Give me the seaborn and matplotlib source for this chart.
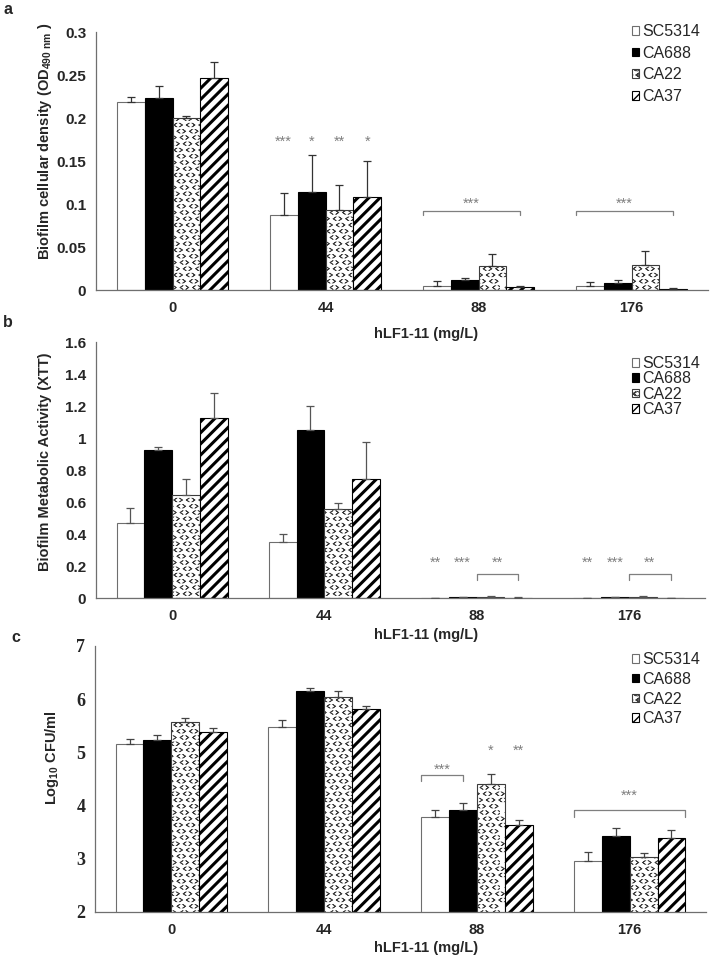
import numpy as np
import pandas as pd
import matplotlib
matplotlib.use("Agg")
import matplotlib.pyplot as plt
import matplotlib.hatch as mhatch
from matplotlib.path import Path
from matplotlib.ticker import FuncFormatter, FixedLocator
import seaborn as sns

# ---------------- data ----------------
concentrations = ["0", "44", "88", "176"]
strains = ["SC5314", "CA688", "CA22", "CA37"]

# panel a: biofilm cellular density (OD490)
a_SC5314 = [0.219, 0.087, 0.005, 0.005]
a_CA688 = [0.223, 0.114, 0.0116, 0.0085]
a_CA22 = [0.1996, 0.093, 0.0274, 0.0295]
a_CA37 = [0.246, 0.1085, 0.003, 0.0015]
a_err_SC5314 = [0.006, 0.026, 0.005, 0.004]
a_err_CA688 = [0.014, 0.043, 0.0024, 0.0035]
a_err_CA22 = [0.0024, 0.029, 0.0146, 0.0162]
a_err_CA37 = [0.019, 0.0415, 0.002, 0.0005]

# panel b: metabolic activity (XTT)
b_SC5314 = [0.471, 0.352, 0.002, 0.002]
b_CA688 = [0.923, 1.05, 0.005, 0.004]
b_CA22 = [0.646, 0.556, 0.008, 0.008]
b_CA37 = [1.123, 0.746, 0.003, 0.002]
b_err_SC5314 = [0.0915, 0.05, 0.001, 0.001]
b_err_CA688 = [0.023, 0.152, 0.002, 0.002]
b_err_CA22 = [0.098, 0.04, 0.004, 0.004]
b_err_CA37 = [0.16, 0.231, 0.001, 0.001]

# panel c: log10 CFU/ml
c_SC5314 = [5.158, 5.484, 3.786, 2.965]
c_CA688 = [5.233, 6.16, 3.917, 3.42]
c_CA22 = [5.578, 6.04, 4.40, 3.04]
c_CA37 = [5.383, 5.81, 3.635, 3.385]
c_err_SC5314 = [0.087, 0.119, 0.131, 0.169]
c_err_CA688 = [0.087, 0.05, 0.132, 0.165]
c_err_CA22 = [0.075, 0.12, 0.20, 0.06]
c_err_CA37 = [0.076, 0.068, 0.101, 0.156]

# significance marks: (category, bar, text)
a_stars = [(1, 0, "***"), (1, 1, "*"), (1, 2, "**"), (1, 3, "*")]
a_star_y = 0.1725
# brackets: (category, (edge, bar), (edge, bar), line y, tick bottom y, text, text y)
a_brackets = [(2, ("left", 0), ("center", 3), 0.092, 0.087, "***", 0.100),
              (3, ("left", 0), ("center", 3), 0.092, 0.087, "***", 0.100)]

b_stars = [(2, 0, "**"), (2, 1, "***"), (3, 0, "**"), (3, 1, "***")]
b_star_y = 0.221
b_brackets = [(2, ("left", 2), ("center", 3), 0.148, 0.111, "**", 0.221),
              (3, ("left", 2), ("center", 3), 0.148, 0.111, "**", 0.221)]

c_stars = [(2, 2, "*"), (2, 3, "**")]
c_star_y = 5.03
c_brackets = [(2, ("left", 0), ("center", 1), 4.57, 4.46, "***", 4.68),
              (3, ("left", 0), ("right", 3), 3.91, 3.79, "***", 4.18)]


# ---------------- custom chevron hatch (replaces 'O') ----------------
def _chev(cx, cy, right):
    """Thin closed V-shaped polygon: '<' or '>' centred on (cx, cy)."""
    hw, hh, t = 0.10, 0.14, 0.03
    s = -1.0 if right else 1.0
    return [(cx + s * hw, cy + hh), (cx - s * hw, cy), (cx + s * hw, cy - hh),
            (cx + s * (hw + t), cy - hh), (cx - s * (hw - t), cy),
            (cx + s * (hw + t), cy + hh), (cx + s * hw, cy + hh)]


class ChevronHatch(mhatch.Shapes):
    filled = True
    size = 1.0

    def __init__(self, hatch, density):
        n = hatch.count("O")
        self.num_rows = (n * density * 2) // 3 if n else 0
        if self.num_rows % 2:
            self.num_rows += 1
        verts = (_chev(0.0, 0.0, False) + _chev(0.5, 0.0, True) +
                 _chev(0.25, 0.5, True) + _chev(0.75, 0.5, False))
        self.shape_vertices = np.array(verts, dtype=float)
        one = [Path.MOVETO] + [Path.LINETO] * 5 + [Path.CLOSEPOLY]
        self.shape_codes = np.array(one * 4, dtype=Path.code_type)
        super().__init__(hatch, density)


_idx = mhatch._hatch_types.index(mhatch.LargeCircles)
mhatch._hatch_types[_idx] = ChevronHatch

# ---------------- style ----------------
sns.set_style("white")
plt.rcParams["font.family"] = ["Liberation Sans", "DejaVu Sans"]
plt.rcParams["mathtext.fontset"] = "custom"
plt.rcParams["mathtext.rm"] = "Liberation Sans:bold"
plt.rcParams["mathtext.bf"] = "Liberation Sans:bold"
plt.rcParams["mathtext.it"] = "Liberation Sans:bold"
plt.rcParams["hatch.linewidth"] = 1.0

AXIS_COLOR = "#6f6f6f"
STAR_COLOR = "#7f7f7f"

styles = {
    "SC5314": dict(fc="white", ec="#6e6e6e", hatch=None, hlw=1.0),
    "CA688": dict(fc="black", ec="black", hatch=None, hlw=1.0),
    "CA22": dict(fc="white", ec="#3c3c3c", hatch="OO", hlw=0.55),
    "CA37": dict(fc="white", ec="black", hatch="///", hlw=2.2),
}

fig = plt.figure(figsize=(7.11, 9.59), dpi=100)

W, H = 711.0, 959.0


def ax_rect(left, right, top, bottom):
    return [left / W, 1 - bottom / H, (right - left) / W, (bottom - top) / H]


panels = [
    dict(rect=ax_rect(96, 708, 32, 290),
         vals=[a_SC5314, a_CA688, a_CA22, a_CA37],
         errs=[a_err_SC5314, a_err_CA688, a_err_CA22, a_err_CA37],
         ylim=(0, 0.3), yticks=np.arange(0, 0.301, 0.05),
         ylabel=r"Biofilm cellular density (OD$_{490\ \mathrm{nm}}$ )",
         ylabel_pos=(45, 141), letter="a", letter_pos=(8, 9),
         stars=a_stars, star_y=a_star_y, brackets=a_brackets,
         legend_top=24, label_spacing=0.42, ecol="#333333",
         serif=False),
    dict(rect=ax_rect(96, 705, 342, 598),
         vals=[b_SC5314, b_CA688, b_CA22, b_CA37],
         errs=[b_err_SC5314, b_err_CA688, b_err_CA22, b_err_CA37],
         ylim=(0, 1.6), yticks=np.arange(0, 1.61, 0.2),
         ylabel="Biofilm Metabolic Activity (XTT)",
         ylabel_pos=(45, 462), letter="b", letter_pos=(8, 323),
         stars=b_stars, star_y=b_star_y, brackets=b_brackets,
         legend_top=356, label_spacing=0.02, ecol="#555555",
         serif=False),
    dict(rect=ax_rect(95, 706, 646, 912),
         vals=[c_SC5314, c_CA688, c_CA22, c_CA37],
         errs=[c_err_SC5314, c_err_CA688, c_err_CA22, c_err_CA37],
         ylim=(2, 7), yticks=np.arange(2, 7.01, 1),
         ylabel=r"Log$_{10}$ CFU/ml",
         ylabel_pos=(52, 758), letter="c", letter_pos=(16, 638),
         stars=c_stars, star_y=c_star_y, brackets=c_brackets,
         legend_top=652, label_spacing=0.3, ecol="#444444",
         serif=True),
]

xlabel_pos = [(426, 334), (426, 635), (426, 948)]

for pi, p in enumerate(panels):
    ax = fig.add_axes(p["rect"])
    rows = []
    for s, v in zip(strains, p["vals"]):
        for c, val in zip(concentrations, v):
            rows.append(dict(conc=c, strain=s, value=val))
    df = pd.DataFrame(rows)
    sns.barplot(data=df, x="conc", y="value", hue="strain",
                order=concentrations, hue_order=strains,
                width=0.73, errorbar=None, legend=False, ax=ax)
    ax.set_xlim(-0.5, 3.5)
    ax.set_ylim(*p["ylim"])
    bar_containers = list(ax.containers[:len(strains)])

    # style bars, add one-sided error bars
    for si, (s, cont) in enumerate(zip(strains, bar_containers)):
        st = styles[s]
        for bar in cont.patches:
            bar.set_facecolor(st["fc"])
            bar.set_edgecolor(st["ec"])
            bar.set_linewidth(0.8)
            if st["hatch"]:
                bar.set_hatch(st["hatch"])
                if hasattr(bar, "set_hatch_linewidth"):
                    bar.set_hatch_linewidth(st["hlw"])
        xs = [b.get_x() + b.get_width() / 2 for b in cont.patches]
        tops = [b.get_y() + b.get_height() for b in cont.patches]
        err = np.array(p["errs"][si])
        ax.errorbar(xs, tops, yerr=[np.zeros_like(err), err], fmt="none",
                    ecolor=p["ecol"], elinewidth=0.9, capsize=3.2,
                    capthick=0.9, zorder=3)

    # axes styling
    for side in ["top", "right"]:
        ax.spines[side].set_visible(False)
    for side in ["left", "bottom"]:
        ax.spines[side].set_color(AXIS_COLOR)
        ax.spines[side].set_linewidth(0.9)
    ax.set_xticks([-0.5, 0.5, 1.5, 2.5, 3.5])
    ax.set_xticklabels([])
    ax.set_xticks(range(4), concentrations, minor=True)
    ax.tick_params(axis="x", which="major", direction="out", length=4.5,
                   color=AXIS_COLOR, width=0.9)
    ax.tick_params(axis="x", which="minor", length=0, pad=8, labelsize=10.5)
    for lab in ax.get_xticklabels(minor=True):
        lab.set_fontweight("bold")
    ax.yaxis.set_major_locator(FixedLocator(p["yticks"]))
    ax.yaxis.set_major_formatter(FuncFormatter(lambda v, _: "%g" % round(v, 3)))
    if p["serif"]:
        ax.tick_params(axis="y", direction="out", length=4, color=AXIS_COLOR,
                       width=0.9, pad=3, labelsize=13,
                       labelfontfamily="Liberation Serif")
    else:
        ax.tick_params(axis="y", direction="out", length=4, color=AXIS_COLOR,
                       width=0.9, pad=3, labelsize=11)
    for lab in ax.get_yticklabels():
        lab.set_fontweight("bold")
    ax.set_xlabel("")
    ax.set_ylabel("")
    ax.grid(False)

    # y label
    fig.text(p["ylabel_pos"][0] / W, 1 - p["ylabel_pos"][1] / H, p["ylabel"],
             rotation=90, ha="center", va="center", fontsize=10.5,
             fontweight="bold")
    # x label
    fig.text(xlabel_pos[pi][0] / W, 1 - xlabel_pos[pi][1] / H,
             "hLF1-11 (mg/L)", ha="center", va="center", fontsize=10.5,
             fontweight="bold")
    # panel letter
    fig.text(p["letter_pos"][0] / W, 1 - p["letter_pos"][1] / H, p["letter"],
             ha="center", va="center", fontsize=11.5, fontweight="bold")

    # significance stars
    def bar_x(cat, spec, conts=bar_containers):
        edge, b = spec
        patch = conts[b].patches[cat]
        if edge == "left":
            return patch.get_x()
        if edge == "right":
            return patch.get_x() + patch.get_width()
        return patch.get_x() + patch.get_width() / 2

    for cat, b, txt in p["stars"]:
        ax.text(bar_x(cat, ("center", b)), p["star_y"], txt, ha="center",
                va="center", fontsize=10.5, color=STAR_COLOR)
    for cat, s0, s1, yl, yb, txt, ty in p["brackets"]:
        x0, x1 = bar_x(cat, s0), bar_x(cat, s1)
        ax.plot([x0, x0, x1, x1], [yb, yl, yl, yb], color=STAR_COLOR, lw=0.9,
                clip_on=False)
        ax.text((x0 + x1) / 2, ty, txt, ha="center", va="center",
                fontsize=10.5, color=STAR_COLOR)

    # legend
    handles = [cont.patches[0] for cont in bar_containers]
    fig.legend(handles, strains, loc="upper left",
               bbox_to_anchor=(632 / W, 1 - p["legend_top"] / H),
               frameon=False, fontsize=11.5, handlelength=0.45,
               handleheight=0.45, handletextpad=0.2,
               labelspacing=p["label_spacing"], borderaxespad=0,
               borderpad=0)

fig.savefig("out.png", dpi=100)
